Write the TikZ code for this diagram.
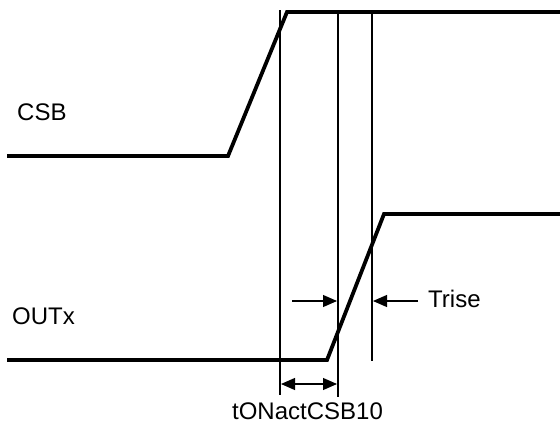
\documentclass[tikz,border=0pt]{standalone}
\usepackage{fontspec}
\setmainfont{Liberation Sans}
\usetikzlibrary{arrows.meta}
\begin{document}
\begin{tikzpicture}[x=1pt,y=-1pt,
  signal/.style={line width=3.8pt,line join=miter},
  marker/.style={line width=2.2pt},
  dimarrow/.style={line width=1.1pt,-{Triangle[length=14pt,width=12pt]}},
  dimboth/.style={line width=1.1pt,{Triangle[length=14pt,width=12pt]}-{Triangle[length=14pt,width=12pt]}},
  lbl/.style={inner sep=0pt,font=\fontsize{24}{28}\selectfont}]
\useasboundingbox (0,0) rectangle (560,432);
% CSB waveform
\coordinate (c0) at (7,156);
\coordinate (c1) at (228,156);
\coordinate (c2) at (287,12);
\coordinate (c3) at (560,12);
\draw[signal] (c0) -- (c1) -- (c2) -- (c3);
% OUTx waveform
\coordinate (o0) at (7,360);
\coordinate (o1) at (327,360);
\coordinate (o2) at (384,214);
\coordinate (o3) at (560,214);
\draw[signal] (o0) -- (o1) -- (o2) -- (o3);
% vertical markers
\coordinate (v1t) at (280,10);  \coordinate (v1b) at (280,395);
\coordinate (v2t) at (338,12);  \coordinate (v2b) at (338,397);
\coordinate (v3t) at (372,12);  \coordinate (v3b) at (372,361);
\draw[marker] (v1t) -- (v1b);
\draw[marker] (v2t) -- (v2b);
\draw[marker] (v3t) -- (v3b);
% labels
\node[lbl,anchor=base west] (csb) at (17,120) {CSB};
\node[lbl,anchor=base west] (outx) at (12,324) {OUTx};
\node[lbl,anchor=base west] (trise) at (428,307) {Trise};
\node[lbl,anchor=base] (ton) at (307.5,419) {tONactCSB10};
% dimension arrows
\coordinate (a1s) at (292,301); \coordinate (a1e) at (337,301);
\coordinate (a2s) at (418,301); \coordinate (a2e) at (373,301);
\draw[dimarrow] (a1s) -- (a1e);
\draw[dimarrow] (a2s) -- (a2e);
\coordinate (b1) at (281,384); \coordinate (b2) at (337,384);
\draw[dimboth] (b1) -- (b2);
\end{tikzpicture}
\end{document}
